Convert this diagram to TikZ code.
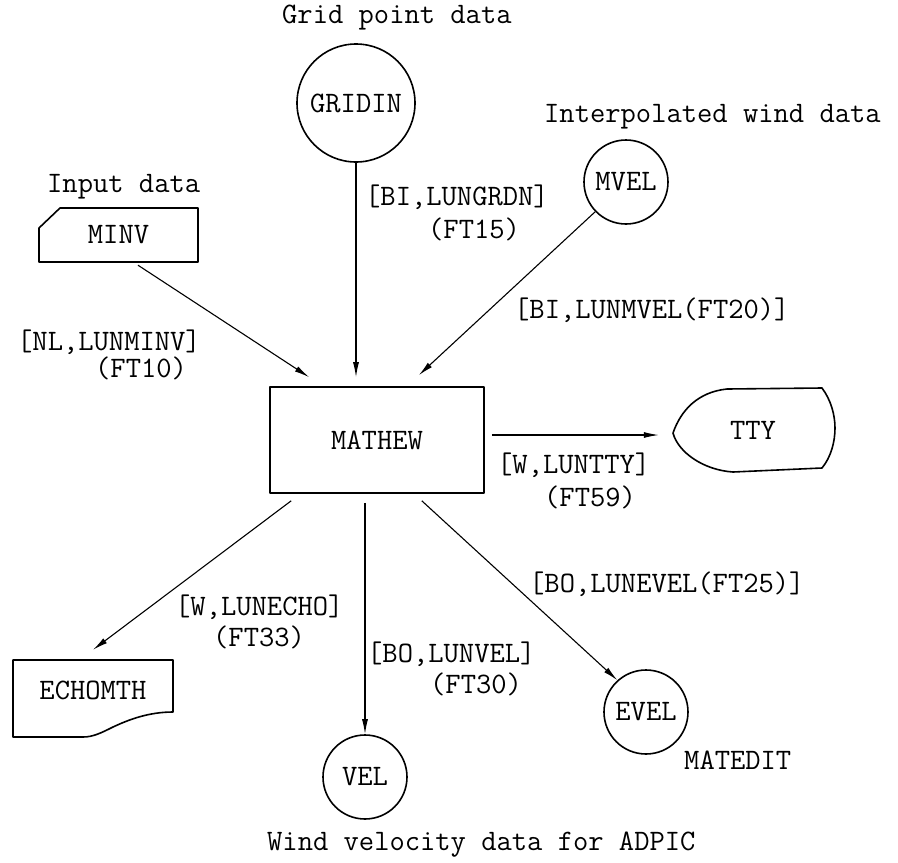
\documentclass[tikz,border=0pt]{standalone}
\usetikzlibrary{arrows.meta,calc}
\begin{document}
\begin{tikzpicture}[x=1pt,y=-1pt,
  every node/.style={font=\fontsize{29.7}{34}\selectfont\ttfamily, inner sep=0pt},
  shp/.style={line width=1.6pt, line join=round},
  circ/.style={circle, draw, line width=1.6pt, minimum size=84pt},
  arr/.style={line width=1.1pt, -{Latex[length=15pt,width=6pt]}},
  lbl/.style={anchor=west}]
\useasboundingbox (0,0) rectangle (898,863);

% main nodes
\node[circ, minimum size=118pt] (gridin) at (356,103) {GRIDIN};
\node[circ] (mvel) at (626,182) {MVEL};
\node[minimum width=159pt, minimum height=54pt] (minv) at (118.5,235) {MINV};
\node[draw, shp, minimum width=214pt, minimum height=106pt] (mathew) at (377,440) {MATHEW};
\node[minimum width=162pt, minimum height=84pt] (tty) at (753,430) {TTY};
\node[minimum width=160pt, minimum height=64pt] (echo) at (93,690) {ECHOMTH};
\node[circ] (vel) at (365,777) {VEL};
\node[circ] (evel) at (646,712) {EVEL};

% MINV card shape
\begin{scope}[shift={(minv.center)}]
  \draw[shp] (-79.5,27) -- (-79.5,-7) -- (-58.5,-27) -- (79.5,-27) -- (79.5,27) -- cycle;
\end{scope}
% TTY display shape
\begin{scope}[shift={(tty.center)}]
  \draw[shp] (-26,-41) -- (69,-42) .. controls (78,-30) and (82,-15) .. (82,-2)
    .. controls (82,12) and (78,27) .. (69,38) -- (-20,42)
    .. controls (-50,40) and (-75,22) .. (-80,3)
    .. controls (-72,-20) and (-55,-38) .. (-26,-41) -- cycle;
\end{scope}
% ECHOMTH document shape
\begin{scope}[shift={(echo.center)}]
  \draw[shp] (-80,47) -- (-80,-30) -- (80,-30) -- (80,22)
    .. controls (55,22) and (35,30) .. (20,37)
    .. controls (8,43) and (0,47) .. (-10,47) -- cycle;
\end{scope}

% free texts
\node[lbl] (tgrid) at (282,18) {Grid point data};
\node[lbl] (tinterp) at (544,117) {Interpolated wind data};
\node[lbl] (tinput) at (47,187) {Input data};
\node[lbl] (twind) at (267,845) {Wind velocity data for ADPIC};
\node[lbl] (tmatedit) at (684,760) {MATEDIT};

% connector labels
\node[lbl] (l1a) at (17,342) {[NL,LUNMINV]};
\node[lbl] (l1b) at (95,368) {(FT10)};
\node[lbl] (l2a) at (365,197) {[BI,LUNGRDN]};
\node[lbl] (l2b) at (428,229) {(FT15)};
\node[lbl] (l3) at (514,310) {[BI,LUNMVEL(FT20)]};
\node[lbl] (l4a) at (497,465) {[W,LUNTTY]};
\node[lbl] (l4b) at (544,497) {(FT59)};
\node[lbl] (l5) at (529,584) {[BO,LUNEVEL(FT25)]};
\node[lbl] (l6a) at (175,607) {[W,LUNECHO]};
\node[lbl] (l6b) at (213,637) {(FT33)};
\node[lbl] (l7a) at (367,654) {[BO,LUNVEL]};
\node[lbl] (l7b) at (430,684) {(FT30)};

% connectors
\coordinate (ttystart) at ([xshift=7pt,yshift=5pt]mathew.east);
\draw[arr] ([xshift=19.5pt,yshift=-3pt]minv.south) -- ([xshift=40pt,yshift=9pt]mathew.north west);
\draw[arr] (gridin.south) -- ([yshift=9pt]gridin.south |- mathew.north);
\draw[arr] (mvel.224) -- ([xshift=-66pt,yshift=11pt]mathew.north east);
\draw[arr] (ttystart) -- ([xshift=-13pt]ttystart -| tty.west);
\draw[arr] ([xshift=22pt,yshift=-7pt]mathew.south west) -- ([yshift=8pt]echo.north);
\draw[arr] ([yshift=-9pt]vel.north |- mathew.south) -- (vel.north);
\draw[arr] ([xshift=-63pt,yshift=-7pt]mathew.south east) -- (evel.132);
\end{tikzpicture}
\end{document}
